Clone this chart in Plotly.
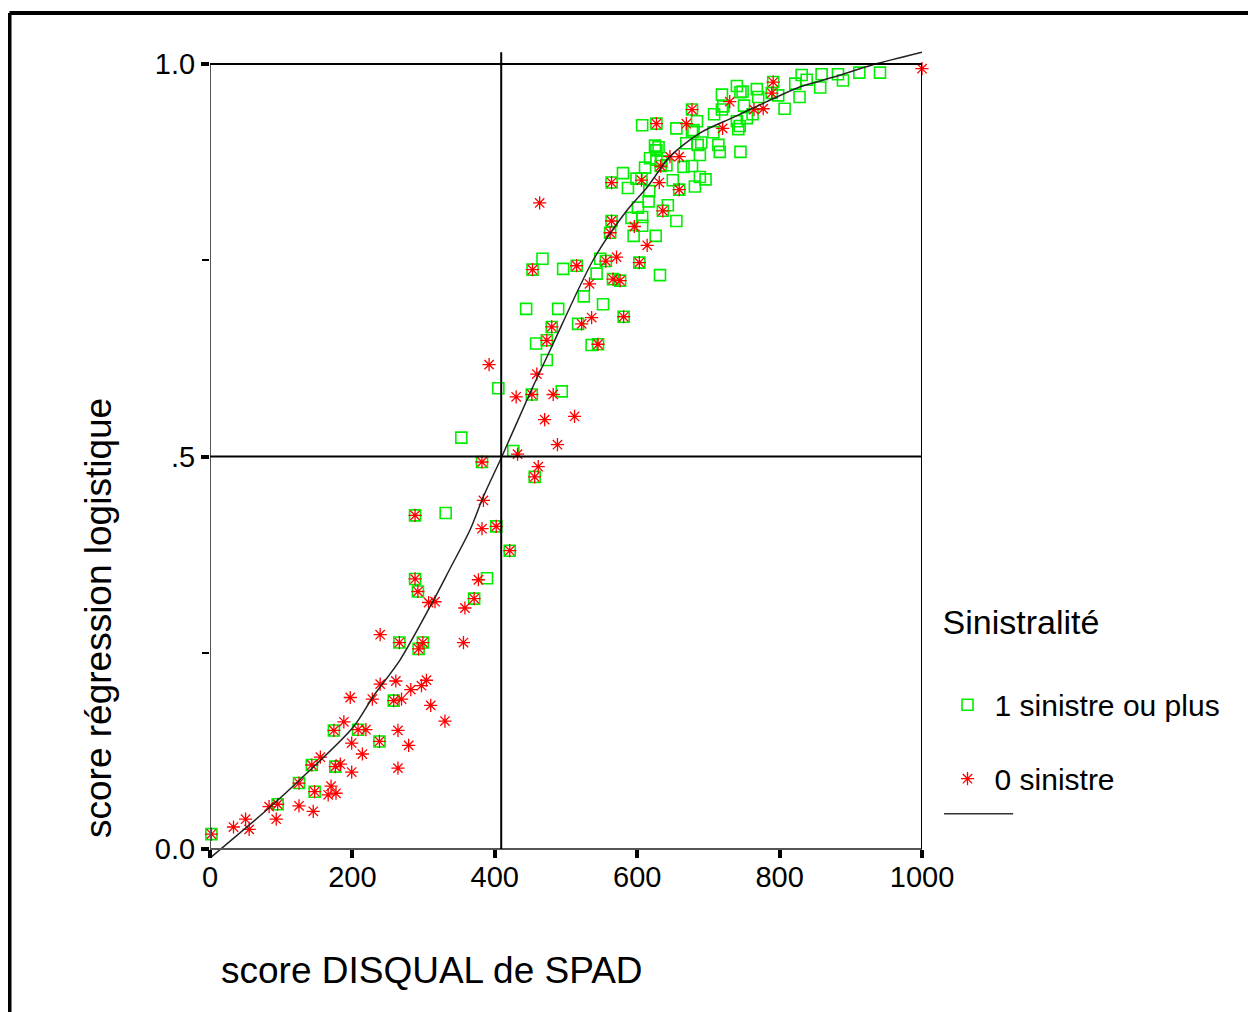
import plotly.graph_objects as go

# score DISQUAL (x) / score regression logistique (y)
green_x = [2, 95, 125, 147, 143, 176, 174, 208, 238, 258, 266, 299, 293, 371, 292, 288, 389, 421,
           402, 331, 288, 456, 382, 426, 353, 494, 452, 405, 473, 458, 473, 536, 545, 480, 517, 581,
           444, 489, 552, 525, 543, 453, 496, 515, 467, 548, 556, 566, 576, 603, 632, 595, 626, 562,
           564, 592, 607, 607, 601, 616, 636, 643, 655, 617, 587, 564, 580, 599, 606, 611, 633, 641,
           627, 618, 634, 650, 665, 677, 659, 681, 688, 696, 669, 685, 690, 688, 625, 630, 627, 714,
           716, 745, 607, 627, 655, 677, 684, 679, 677, 707, 708, 719, 719, 721, 740, 745, 740, 744,
           742, 750, 754, 762, 748, 768, 770, 789, 791, 798, 807, 822, 828, 831, 838, 857, 859, 882,
           889, 912, 941]
green_y = [0.019, 0.057, 0.084, 0.073, 0.107, 0.105, 0.151, 0.152, 0.137, 0.189, 0.263, 0.263, 0.255,
           0.319, 0.328, 0.344, 0.345, 0.380, 0.411, 0.428, 0.425, 0.474, 0.493, 0.507, 0.524, 0.583,
           0.579, 0.587, 0.623, 0.644, 0.648, 0.642, 0.643, 0.665, 0.669, 0.678, 0.688, 0.688, 0.694,
           0.704, 0.733, 0.738, 0.739, 0.743, 0.752, 0.752, 0.749, 0.726, 0.724, 0.747, 0.731, 0.781,
           0.781, 0.785, 0.800, 0.804, 0.805, 0.794, 0.817, 0.825, 0.813, 0.820, 0.800, 0.838, 0.842,
           0.849, 0.861, 0.854, 0.854, 0.868, 0.870, 0.871, 0.878, 0.880, 0.876, 0.852, 0.869, 0.870,
           0.840, 0.844, 0.856, 0.853, 0.899, 0.897, 0.900, 0.884, 0.896, 0.894, 0.890, 0.897, 0.888,
           0.888, 0.922, 0.924, 0.918, 0.942, 0.927, 0.916, 0.914, 0.913, 0.936, 0.961, 0.942, 0.946,
           0.972, 0.964, 0.927, 0.921, 0.917, 0.947, 0.931, 0.936, 0.965, 0.968, 0.958, 0.963, 0.977,
           0.960, 0.943, 0.975, 0.958, 0.986, 0.980, 0.970, 0.987, 0.987, 0.979, 0.989, 0.989]

red_x = [2, 33, 50, 55, 83, 95, 93, 125, 145, 125, 147, 170, 166, 177, 143, 155, 176, 183, 199, 214,
         199, 174, 188, 208, 219, 238, 264, 264, 279, 330, 310, 297, 304, 282, 258, 269, 261, 239, 228,
         197, 239, 266, 299, 293, 356, 358, 371, 307, 316, 292, 288, 377, 421, 402, 382, 288, 384, 456,
         461, 382, 432, 488, 470, 512, 430, 452, 482, 459, 392, 473, 545, 480, 522, 536, 581, 533, 453,
         515, 556, 571, 566, 576, 603, 614, 562, 564, 596, 463, 636, 564, 606, 631, 659, 633, 646, 659,
         627, 669, 677, 720, 730, 764, 777, 789, 791, 1000]
red_y = [0.019, 0.028, 0.038, 0.025, 0.054, 0.057, 0.038, 0.055, 0.048, 0.084, 0.073, 0.080, 0.069,
         0.071, 0.107, 0.117, 0.105, 0.108, 0.098, 0.121, 0.135, 0.151, 0.162, 0.152, 0.152, 0.137,
         0.151, 0.103, 0.132, 0.163, 0.183, 0.208, 0.215, 0.203, 0.189, 0.191, 0.214, 0.210, 0.191,
         0.193, 0.273, 0.263, 0.263, 0.255, 0.263, 0.307, 0.319, 0.314, 0.315, 0.328, 0.344, 0.343,
         0.380, 0.411, 0.408, 0.425, 0.444, 0.474, 0.487, 0.493, 0.503, 0.515, 0.547, 0.551, 0.576,
         0.579, 0.579, 0.605, 0.617, 0.648, 0.643, 0.665, 0.669, 0.677, 0.678, 0.720, 0.738, 0.743,
         0.749, 0.754, 0.726, 0.724, 0.747, 0.769, 0.785, 0.800, 0.793, 0.823, 0.813, 0.849, 0.852,
         0.849, 0.840, 0.870, 0.882, 0.882, 0.924, 0.924, 0.942, 0.918, 0.952, 0.942, 0.943, 0.963,
         0.977, 0.994]

# fitted curve
curve_x = [2, 80, 126, 201, 229, 267, 314, 337, 365, 384, 410, 449, 478, 538, 586, 614, 646, 688,
           735, 782, 829, 875, 931, 1000]
curve_y = [-0.010, 0.050, 0.088, 0.155, 0.194, 0.241, 0.317, 0.357, 0.406, 0.449, 0.500, 0.580,
           0.636, 0.750, 0.814, 0.843, 0.882, 0.912, 0.932, 0.952, 0.971, 0.983, 0.999, 1.015]

cut_x = 409
cut_y = 0.5

FONT = "Liberation Sans, Arial, sans-serif"
Y_RANGE = [-0.02038, 1.03057]
x_pos = (0 - Y_RANGE[0]) / (Y_RANGE[1] - Y_RANGE[0])

fig = go.Figure()
fig.add_trace(go.Scatter(
    x=green_x, y=green_y, mode='markers', name='1 sinistre ou plus',
    legendgroup='g1', cliponaxis=False,
    marker=dict(symbol='square-open', size=11, color='#00ee00', line=dict(width=1.6, color='#00ee00')),
))
fig.add_trace(go.Scatter(
    x=red_x, y=red_y, mode='markers', name='0 sinistre',
    legendgroup='g2', cliponaxis=False,
    marker=dict(symbol='asterisk-open', size=11, color='#ff0000', line=dict(width=1.3, color='#ff0000')),
))
fig.add_trace(go.Scatter(
    x=curve_x, y=curve_y, mode='lines', showlegend=False, cliponaxis=False,
    line=dict(color='#222222', width=1.5, shape='spline', smoothing=0.8),
))

line_blk = dict(color='black', width=2)
line_axis = dict(color='#555555', width=2)
shapes = [
    # axes + box
    dict(type='line', xref='x', yref='y', x0=0, x1=1000, y0=0, y1=0, line=line_axis),
    dict(type='line', xref='x', yref='y', x0=0, x1=0, y0=0, y1=1, line=line_axis),
    dict(type='line', xref='x', yref='y', x0=0, x1=1000, y0=1, y1=1, line=line_blk),
    dict(type='line', xref='x', yref='y', x0=1000, x1=1000, y0=0, y1=1, line=line_blk),
    # reference lines
    dict(type='line', xref='x', yref='y', x0=cut_x, x1=cut_x, y0=0, y1=1.015, line=line_blk),
    dict(type='line', xref='x', yref='y', x0=0, x1=1000, y0=cut_y, y1=cut_y, line=line_blk),
    # legend key of the curve
    dict(type='line', xref='paper', yref='paper', x0=1.031, x1=1.128, y0=0.062, y1=0.062,
         line=dict(color='#333333', width=1.5)),
    # outer frame (left + top)
    dict(type='line', xref='paper', yref='paper', x0=-0.2816, x1=-0.2816, y0=-0.25, y1=1.0327,
         line=dict(color='black', width=4)),
    dict(type='line', xref='paper', yref='paper', x0=-0.2816, x1=1.6, y0=1.0327, y1=1.0327,
         line=dict(color='black', width=4)),
]

annotations = [
    dict(text='score DISQUAL de SPAD', xref='paper', yref='paper', x=(432 - 210) / 712,
         y=(865 - 970) / 825, showarrow=False, font=dict(family=FONT, size=37, color='black'),
         xanchor='center', yanchor='middle'),
    dict(text='score régression logistique', xref='paper', yref='paper', x=(98 - 210) / 712,
         y=(865 - 618) / 825, showarrow=False, textangle=-90,
         font=dict(family=FONT, size=37, color='black'), xanchor='center', yanchor='middle'),
]

fig.update_layout(
    width=1248, height=1004,
    margin=dict(l=202, r=334, t=32, b=147),
    paper_bgcolor='white', plot_bgcolor='white',
    showlegend=True,
    legend=dict(
        x=1.026, y=0.333, xanchor='left', yanchor='top',
        title=dict(text='Sinistralité<br> ', font=dict(family=FONT, size=34, color='black')),
        font=dict(family=FONT, size=30, color='black'),
        tracegroupgap=32, itemwidth=44, bgcolor='rgba(0,0,0,0)',
    ),
    xaxis=dict(
        range=[0, 1000], showgrid=False, zeroline=False, showline=False,
        anchor='free', position=x_pos,
        tickvals=[0, 200, 400, 600, 800, 1000], ticks='outside', ticklen=8, tickwidth=4,
        tickcolor='black', tickfont=dict(family=FONT, size=29, color='black'),
        ticklabelstandoff=-6,
    ),
    yaxis=dict(
        range=Y_RANGE, showgrid=False, zeroline=False, showline=False,
        tickvals=[0, 0.5, 1.0], ticktext=['0.0', '.5', '1.0'],
        ticks='outside', ticklen=8, tickwidth=4, tickcolor='black',
        tickfont=dict(family=FONT, size=29, color='black'),
        minor=dict(tickvals=[0.25, 0.75], ticks='outside', ticklen=7, tickwidth=1.5, tickcolor='black'),
    ),
    shapes=shapes,
    annotations=annotations,
)

fig.write_html("out.html")
